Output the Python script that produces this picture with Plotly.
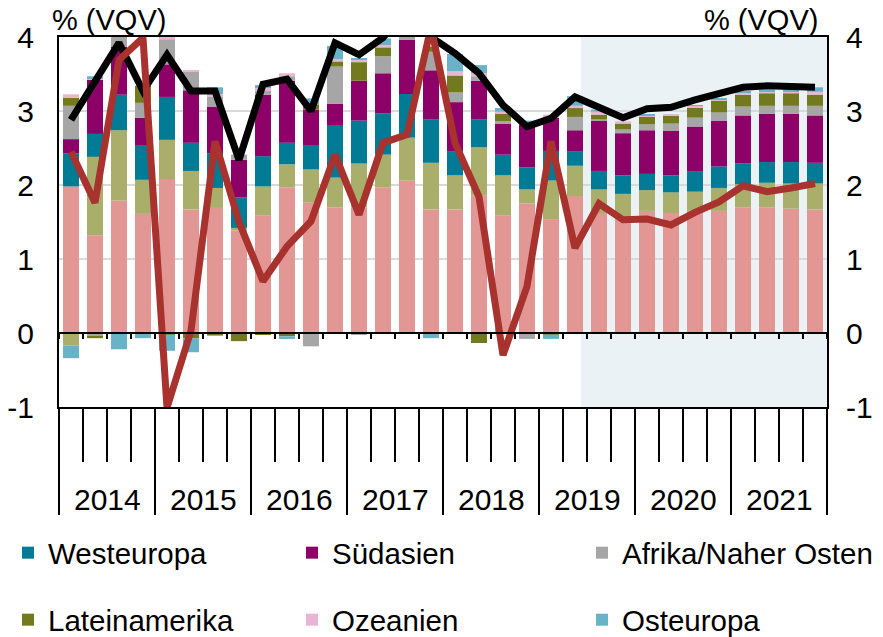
import plotly.graph_objects as go

# ---------------- data ----------------
years = ["2014", "2015", "2016", "2017", "2018", "2019", "2020", "2021"]
n_q = 32  # quarters 2014Q1 .. 2021Q4

ostasien = [1.98, 1.32, 1.79, 1.61, 2.08, 1.67, 1.69, 1.39,
            1.59, 1.97, 1.76, 1.70, 1.70, 1.97, 2.06, 1.67,
            1.67, 1.86, 1.59, 1.75, 1.53, 1.85, 1.62, 1.58,
            1.65, 1.62, 1.65, 1.65, 1.70, 1.70, 1.68, 1.67]
nordamerika = [-0.17, 1.06, 0.95, 0.46, 0.53, 0.52, 0.27, 0.03,
               0.39, 0.31, 0.45, 0.40, 0.59, 0.44, 0.58, 0.63,
               0.46, 0.65, 0.54, 0.19, 0.53, 0.41, 0.32, 0.30,
               0.28, 0.28, 0.26, 0.31, 0.31, 0.33, 0.34, 0.35]
westeuropa = [0.45, 0.31, 0.48, 0.46, 0.58, 0.38, 0.47, 0.41,
              0.41, 0.29, 0.32, 0.70, 0.58, 0.56, 0.59, 0.59,
              0.32, 0.38, 0.28, 0.30, 0.40, 0.19, 0.25, 0.25,
              0.22, 0.23, 0.27, 0.29, 0.28, 0.28, 0.29, 0.28]
suedasien = [0.19, 0.73, 0.65, 0.38, 0.44, 0.71, 0.63, 0.51,
             0.83, 0.84, 0.49, 0.30, 0.54, 0.54, 0.73, 0.66,
             0.67, 0.52, 0.42, 0.58, 0.45, 0.29, 0.68, 0.57,
             0.59, 0.60, 0.61, 0.62, 0.65, 0.65, 0.65, 0.64]
afrika = [0.45, -0.035, 0.18, 0.20, 0.34, 0.25, 0.13, 0.07,
          0.05, 0.06, -0.18, 0.50, -0.02, 0.23, 0.22, 0.25,
          0.13, 0.06, 0.03, -0.08, 0.0, 0.18, 0.02, 0.05,
          0.08, 0.10, 0.12, 0.11, 0.12, 0.11, 0.11, 0.13]
lateinamerika = [0.11, -0.035, 0.05, 0.23, -0.02, -0.07, -0.035, -0.11,
                 -0.02, -0.045, 0.07, 0.07, 0.25, 0.12, 0.12, 0.07,
                 0.23, -0.135, 0.10, 0.0, -0.02, 0.12, 0.06, 0.08,
                 0.10, 0.11, 0.14, 0.16, 0.16, 0.17, 0.17, 0.15]
ozeanien = [0.045, 0.025, 0.03, 0.0, 0.045, 0.02, 0.04, 0.0,
            0.04, 0.04, 0.0, 0.03, 0.03, 0.03, 0.02, 0.0,
            0.06, 0.04, 0.03, 0.0, 0.04, 0.03, 0.04, 0.03,
            0.02, 0.01, 0.02, 0.02, 0.03, 0.03, 0.03, 0.04]
osteuropa = [-0.17, 0.025, -0.22, -0.07, -0.22, -0.19, 0.09, 0.0,
             0.04, -0.036, 0.08, 0.18, 0.02, 0.09, 0.08, -0.07,
             0.23, 0.11, 0.05, 0.05, -0.06, 0.13, 0.03, 0.0,
             0.01, 0.0, 0.01, 0.01, 0.02, 0.02, 0.02, 0.06]

welt = [2.88, 3.40, 3.92, 3.27, 3.76, 3.27, 3.27, 2.34,
        3.36, 3.43, 3.00, 3.92, 3.76, 3.99, 4.40, 4.00,
        3.78, 3.51, 3.08, 2.79, 2.90, 3.19, 3.05, 2.91,
        3.03, 3.05, 3.15, 3.24, 3.32, 3.34, 3.34, 3.32]
rot = [2.45, 1.76, 3.69, 3.99, -1.01, 0.03, 2.59, 1.50,
       0.70, 1.17, 1.51, 2.41, 1.60, 2.57, 2.68, 4.14,
       2.57, 1.84, -0.30, 0.63, 2.59, 1.15, 1.75, 1.53,
       1.54, 1.46, 1.63, 1.77, 1.99, 1.91, 1.96, 2.02]

y_ticks = [-1, 0, 1, 2, 3, 4]
y_ticktext = ["-1", "0", "1", "2", "3", "4"]
forecast_start = 22  # 2019Q3

# ---------------- figure ----------------
FONT = "Liberation Sans, Arial, sans-serif"
FS = 30
LFS = 29.5
OFF = 8                      # page body margin of the browser
W, H = 883 - OFF, 637 - OFF
x = list(range(n_q))
y_min, y_max = -1, 4

# (name, values, colour, legend slot: (row, col) or None)
series = [
    ("Ostasien", ostasien, "#E29795", None),
    ("Nordamerika", nordamerika, "#A9AE6A", None),
    ("Westeuropa", westeuropa, "#007B96", (0, 0)),
    ("Südasien", suedasien, "#8C0068", (0, 1)),
    ("Afrika/Naher Osten", afrika, "#A6A6A6", (0, 2)),
    ("Lateinamerika", lateinamerika, "#737A1E", (1, 0)),
    ("Ozeanien", ozeanien, "#E8B5D2", (1, 1)),
    ("Osteuropa", osteuropa, "#69B3C8", (1, 2)),
]

legend_row_y = [553 - OFF, 620 - OFF]                      # px from figure top
legend_col_x = [40 - OFF - 41, 333 - OFF - 41, 623 - OFF - 41]  # px from figure left

fig = go.Figure()
legend_layouts = {}
k = 0
for name, vals, col, slot in series:
    if slot is not None:
        k += 1
        lid = "legend" if k == 1 else f"legend{k}"
        kw = dict(legend=lid, showlegend=True)
        r, c = slot
        legend_layouts[lid] = dict(
            orientation="h", xref="container", yref="container",
            x=legend_col_x[c] / W, xanchor="left",
            y=1 - legend_row_y[r] / H, yanchor="middle",
            font=dict(size=LFS, family=FONT, color="#000000"),
            bgcolor="rgba(0,0,0,0)", borderwidth=0)
    else:
        kw = dict(showlegend=False)
    fig.add_trace(go.Bar(
        x=x, y=vals, name=name, width=0.667, cliponaxis=False,
        marker=dict(color=col, line=dict(width=0)), **kw))

fig.add_trace(go.Scatter(x=x, y=welt, mode="lines", name="Welt",
                         line=dict(color="#000000", width=7), cliponaxis=False,
                         showlegend=False, xaxis="x3", yaxis="y2"))
fig.add_trace(go.Scatter(x=x, y=rot, mode="lines", name="Rot",
                         line=dict(color="#A8322E", width=7), cliponaxis=False,
                         showlegend=False, xaxis="x3", yaxis="y2"))

boundaries = [i - 0.5 for i in range(n_q + 1)]
year_bounds = [i - 0.5 for i in range(0, n_q + 1, 4)]

fig.update_layout(
    width=W, height=H,
    margin=dict(l=59 - OFF, r=56, t=37 - OFF, b=230, autoexpand=False),
    paper_bgcolor="white", plot_bgcolor="white",
    barmode="relative",
    font=dict(family=FONT, size=FS, color="#000000"),
    xaxis=dict(range=[-0.5, n_q - 0.5], showgrid=False, zeroline=False,
               automargin=False,
               showline=True, linecolor="#000000", linewidth=2, mirror=True,
               tickmode="array", tickvals=year_bounds, ticks="outside",
               ticklen=106, tickwidth=2, tickcolor="#000000",
               showticklabels=False,
               minor=dict(tickmode="array", tickvals=boundaries, ticks="outside",
                          ticklen=53, tickwidth=2, tickcolor="#000000")),
    xaxis3=dict(range=[-0.5, n_q - 0.5], overlaying="x", anchor="free",
                position=(0 - y_min) / (y_max - y_min), automargin=False,
                showgrid=False, zeroline=False, showline=True,
                linecolor="#000000", linewidth=2,
                tickmode="array", tickvals=boundaries, ticks="outside",
                ticklen=5, tickwidth=2, tickcolor="#000000",
                showticklabels=False),
    yaxis=dict(range=[y_min, y_max], tickmode="array", tickvals=y_ticks,
               ticktext=y_ticktext, showgrid=True, gridcolor="#D9D9D9",
               gridwidth=2, zeroline=False, showline=True, mirror=True,
               automargin=False,
               linecolor="#000000", linewidth=2, ticks="",
               ticklabelstandoff=17, tickfont=dict(size=FS)),
    yaxis2=dict(range=[y_min, y_max], overlaying="y", side="right",
                tickmode="array", tickvals=y_ticks, ticktext=y_ticktext,
                automargin=False,
                showgrid=False, zeroline=False, showline=False, ticks="",
                ticklabelstandoff=18, tickfont=dict(size=FS)),
    shapes=[dict(type="rect", xref="x", yref="paper",
                 x0=forecast_start - 0.75, x1=n_q - 0.5, y0=0, y1=1,
                 fillcolor="#EAF2F5", line=dict(width=0), layer="below")],
)
fig.update_layout(**legend_layouts)

ann = []
for i, yr in enumerate(years):
    ann.append(dict(x=4 * i + 1.5, xref="x", y=0, yref="paper", text=yr,
                    showarrow=False, yanchor="middle", yshift=-92,
                    font=dict(size=FS)))
ann.append(dict(x=-0.012, xref="paper", y=1, yref="paper", text="% (VQV)",
                showarrow=False, xanchor="left", yanchor="middle", yshift=17,
                font=dict(size=29)))
ann.append(dict(x=0.991, xref="paper", y=1, yref="paper", text="% (VQV)",
                showarrow=False, xanchor="right", yanchor="middle", yshift=17,
                font=dict(size=29)))
fig.update_layout(annotations=ann)

fig.write_html("out.html")
